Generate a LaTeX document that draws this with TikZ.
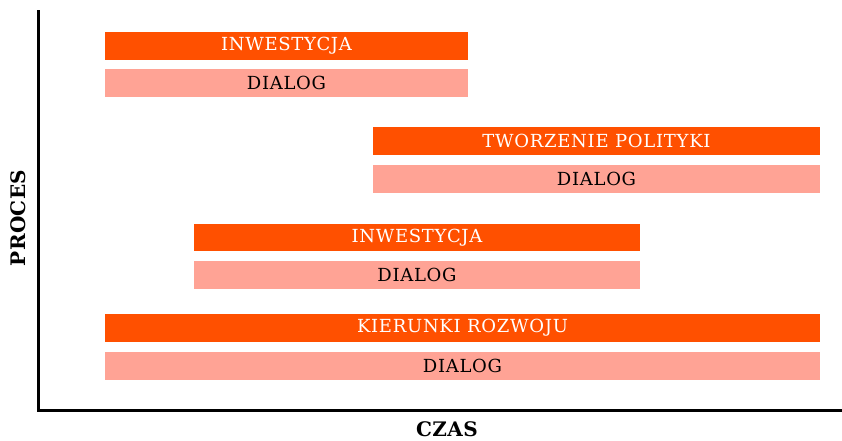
\documentclass[tikz,border=0pt]{standalone}
\usepackage{fontspec}
\setmainfont{DejaVu Serif}[LetterSpace=4]
\newfontfamily\boldlab{DejaVu Serif}[LetterSpace=2]
\definecolor{barorange}{HTML}{FF5000}
\definecolor{barpink}{HTML}{FFA395}
\tikzset{
  topbar/.style={fill=barorange, inner sep=0pt, text=white, font=\fontsize{18}{20}\selectfont},
  lowbar/.style={fill=barpink, inner sep=0pt, text=black, font=\fontsize{18}{20}\selectfont},
  axislab/.style={font=\boldlab\bfseries\fontsize{20}{22}\selectfont, inner sep=0pt},
  axisline/.style={line width=3pt, line cap=rect}
}
\begin{document}
\begin{tikzpicture}[x=1pt,y=-1pt]
\useasboundingbox (0,0) rectangle (842,441);
% axes
\coordinate (top) at (38,12);
\coordinate (origin) at (38,410);
\coordinate (right) at (842,410);
\draw[axisline] (top) -- (origin) -- (right);
% bars
\node[topbar, minimum width=363pt, minimum height=28pt] (inv1) at (286.5,46) {INWESTYCJA};
\node[lowbar, minimum width=363pt, minimum height=28pt] (dia1) at (286.5,83) {DIALOG};
\node[topbar, minimum width=447pt, minimum height=28pt] (pol) at (596.5,141) {TWORZENIE POLITYKI};
\node[lowbar, minimum width=447pt, minimum height=28pt] (dia2) at (596.5,179) {DIALOG};
\node[topbar, minimum width=446pt, minimum height=27pt] (inv2) at (417,237.5) {INWESTYCJA};
\node[lowbar, minimum width=446pt, minimum height=28pt] (dia3) at (417,275) {DIALOG};
\node[topbar, minimum width=715pt, minimum height=28pt] (kier) at (462.5,328) {KIERUNKI ROZWOJU};
\node[lowbar, minimum width=715pt, minimum height=28pt] (dia4) at (462.5,366) {DIALOG};
% axis labels
\node[axislab, rotate=90] (proces) at (18,218) {PROCES};
\node[axislab] (czas) at (447,429) {CZAS};
\end{tikzpicture}
\end{document}
